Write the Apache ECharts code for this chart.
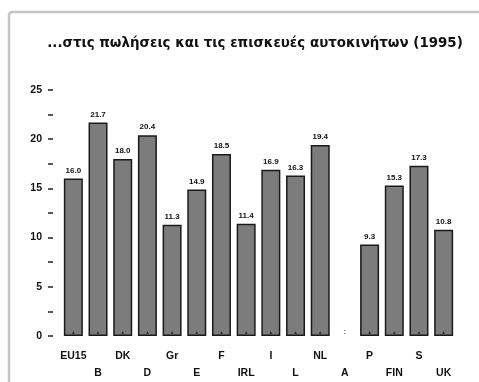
<!DOCTYPE html>
<html>
<head>
<meta charset="utf-8">
<script src="https://cdn.jsdelivr.net/npm/echarts@6/dist/echarts.min.js"></script>
<style>
  html, body { margin: 0; padding: 0; background: #fff; }
  #chart { width: 479px; height: 382px; }
</style>
</head>
<body>
<div id="chart"></div>
<script>
// Country codes along the x axis
const countries = ['EU15', 'B', 'DK', 'D', 'Gr', 'E', 'F', 'IRL', 'I', 'L', 'NL', 'A', 'P', 'FIN', 'S', 'UK'];
// Share per country (null = not available, shown as ':')
const values = [16.0, 21.7, 18.0, 20.4, 11.3, 14.9, 18.5, 11.4, 16.9, 16.3, 19.4, null, 9.3, 15.3, 17.3, 10.8];
// Value axis labels
const yTicks = [0, 5, 10, 15, 20, 25];

const titleText = '...στις πωλήσεις και τις επισκευές αυτοκινήτων (1995)';

const chart = echarts.init(document.getElementById('chart'), null, { renderer: 'canvas' });

const barData = values.map(v => {
  if (v === null) {
    return {
      value: 0,
      itemStyle: { borderWidth: 0, color: 'transparent' },
      label: { show: true, formatter: ':', position: 'top', distance: 0, color: '#555' }
    };
  }
  return { value: v };
});

// small footnote marks at the foot of each bar
const footMarks = values.map((v, i) => (v === null ? null : [countries[i], 0.35]));

chart.setOption({
  animation: false,
  backgroundColor: '#fff',
  graphic: [{
    type: 'rect',
    shape: { x: 9, y: 12, width: 520, height: 420, r: 3 },
    style: { fill: 'none', stroke: '#c4c4c4', lineWidth: 2.5 },
    silent: true
  }],
  title: {
    text: titleText,
    left: 250,
    textAlign: 'center',
    top: 32,
    textStyle: {
      fontFamily: 'DejaVu Sans, Verdana, sans-serif',
      fontWeight: 'bold',
      fontSize: 13.4,
      color: '#111'
    }
  },
  grid: { left: 61, right: 23, top: 90, bottom: 43, containLabel: false },
  xAxis: {
    type: 'category',
    data: countries,
    axisLine: { show: false },
    axisTick: { show: false },
    axisLabel: {
      interval: 0,
      margin: 12,
      fontFamily: 'Liberation Sans, Arial, sans-serif',
      fontWeight: 'bold',
      fontSize: 10.5,
      color: '#111',
      lineHeight: 17,
      formatter: (v, i) => (i % 2 === 1 ? '\n' + v : v)
    }
  },
  yAxis: {
    type: 'value',
    min: 0,
    max: 25,
    interval: 2.5,
    offset: 8,
    axisLine: { show: false },
    axisTick: { show: true, inside: false, length: 5, lineStyle: { color: '#222', width: 1.5 } },
    splitLine: { show: false },
    axisLabel: {
      margin: 11,
      fontFamily: 'Liberation Sans, Arial, sans-serif',
      fontWeight: 'bold',
      fontSize: 10.5,
      color: '#111',
      formatter: v => (yTicks.indexOf(v) >= 0 ? String(v) : '')
    }
  },
  series: [{
    type: 'bar',
    data: barData,
    barWidth: 19,
    itemStyle: {
      color: '#7c7c7c',
      borderColor: '#1a1a1a',
      borderWidth: 1.5
    },
    label: {
      show: true,
      position: 'top',
      distance: 4,
      fontFamily: 'Liberation Sans, Arial, sans-serif',
      fontWeight: 'bold',
      fontSize: 8,
      color: '#111',
      formatter: p => p.value.toFixed(1)
    }
  }, {
    type: 'scatter',
    data: footMarks,
    symbol: 'triangle',
    symbolSize: 3,
    itemStyle: { color: '#222' },
    silent: true,
    z: 3
  }]
});
</script>
</body>
</html>
